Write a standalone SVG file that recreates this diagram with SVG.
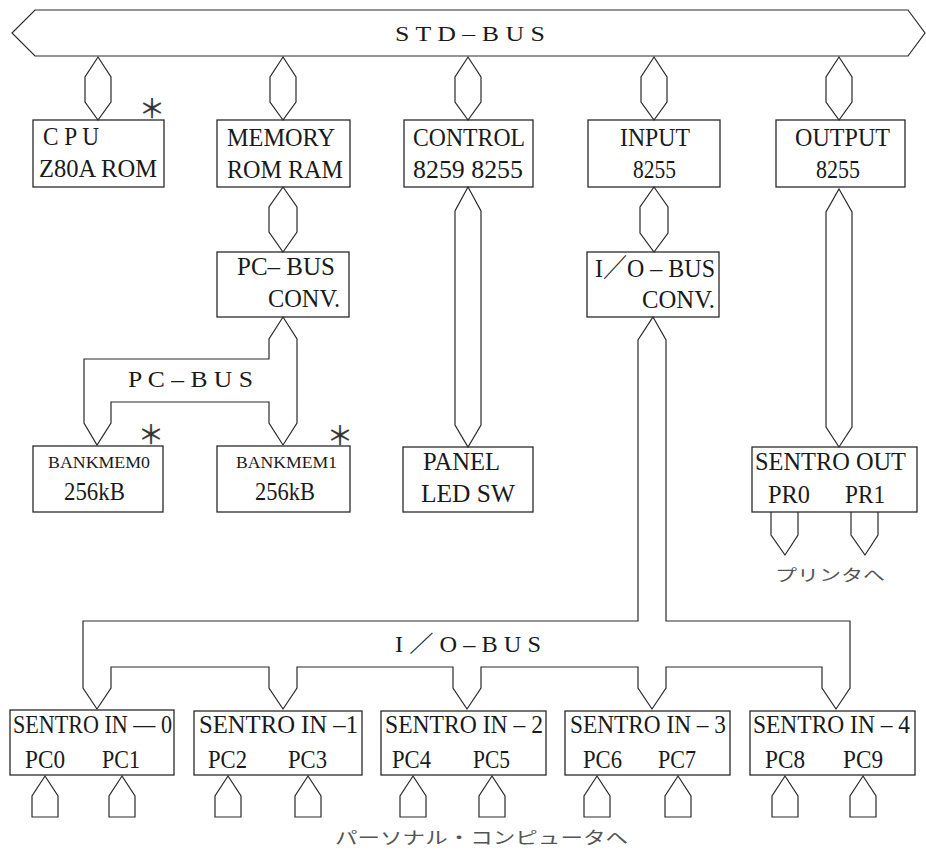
<svg xmlns="http://www.w3.org/2000/svg" width="926" height="857" viewBox="0 0 926 857">
<style>
.bx{fill:none;stroke:#2a2a2a;stroke-width:1.3}
.cn{fill:none;stroke:#2a2a2a;stroke-width:1.2;stroke-linejoin:miter}
.t{font-family:"Liberation Serif","Times New Roman","Noto Sans CJK JP",serif;font-size:26px;fill:#1a1a1a}
.m{font-size:23px}
.s{font-size:17px}
.b{font-size:20px}
.jp{font-family:"Noto Sans CJK JP",sans-serif;font-size:16px;fill:#555}
.ast{font-family:"Noto Sans CJK JP",sans-serif;font-size:26px;fill:#333;stroke:#333;stroke-width:0.3;text-anchor:middle;dominant-baseline:central}
</style>
<rect width="926" height="857" fill="#fff"/>
<g id="connectors">
<polygon class="cn" points="35,10 908,10 925,33 908,56 35,56 12,33"/>
<text class="t b" x="395" y="41" textLength="150" lengthAdjust="spacingAndGlyphs">S T D – B U S</text>
<polygon class="cn" points="98,57 111,77 111,102 98,120 85,102 85,77"/>
<polygon class="cn" points="283,57 296,77 296,102 283,120 270,102 270,77"/>
<polygon class="cn" points="468,57 481,77 481,102 468,120 455,102 455,77"/>
<polygon class="cn" points="654,57 667,77 667,102 654,120 641,102 641,77"/>
<polygon class="cn" points="839,57 852,77 852,102 839,120 826,102 826,77"/>
<polygon class="cn" points="283,187 297,207 297,232 283,252 269,232 269,207"/>
<polygon class="cn" points="654,187 668,207 668,233 654,252 640,233 640,207"/>
<polygon class="cn" points="468,187 481,211 481,425 468,447 455,425 455,211"/>
<polygon class="cn" points="839,189 852,212 852,427 839,447 826,427 826,212"/>
<polygon class="cn" points="283,317 297,339 297,423 283,445 269,423 269,402 111,402 111,423 97,445 84,423 84,359 269,359 269,339"/>
<text class="t m" x="128" y="387" textLength="125" lengthAdjust="spacingAndGlyphs">P C – B U S</text>
<polygon class="cn" points="653,317 666,340 666,621 850,621 850,688 836,709 822,688 822,667 666,667 666,688 652,709 638,688 638,667 481,667 481,688 467,709 453,688 453,667 297,667 297,688 283,709 269,688 269,667 111,667 111,688 97,709 83,688 83,621 638,621 638,340"/>
<text class="t m" x="395" y="652" textLength="146" lengthAdjust="spacingAndGlyphs">I ／ O – B U S</text>
<polyline class="cn" points="771,512 771,535 785,555 798,535 798,512"/>
<polyline class="cn" points="851,512 851,535 865,555 878,535 878,512"/>
<polygon class="cn" points="45,776 58,796 58,817 32,817 32,796"/>
<polygon class="cn" points="122,776 135,796 135,817 109,817 109,796"/>
<polygon class="cn" points="228,776 241,796 241,817 215,817 215,796"/>
<polygon class="cn" points="308,776 321,796 321,817 295,817 295,796"/>
<polygon class="cn" points="413,776 426,796 426,817 400,817 400,796"/>
<polygon class="cn" points="492,776 505,796 505,817 479,817 479,796"/>
<polygon class="cn" points="597,776 610,796 610,817 584,817 584,796"/>
<polygon class="cn" points="678,776 691,796 691,817 665,817 665,796"/>
<polygon class="cn" points="785,776 798,796 798,817 772,817 772,796"/>
<polygon class="cn" points="863,776 876,796 876,817 850,817 850,796"/>
<text class="jp" x="775" y="581" textLength="110" lengthAdjust="spacingAndGlyphs">プリンタへ</text>
<text class="jp" x="335" y="844" textLength="293" lengthAdjust="spacingAndGlyphs" style="font-size:17px">パーソナル・コンピュータへ</text>
</g>
<g id="cpu">
<rect class="bx" x="33" y="120" width="131" height="67"/>
<text class="t" x="43" y="145" textLength="56" lengthAdjust="spacingAndGlyphs">C P U</text>
<text class="t" x="39" y="177" textLength="118" lengthAdjust="spacingAndGlyphs">Z80A ROM</text>
<text class="ast" x="152" y="106">＊</text>
</g>
<g id="memory">
<rect class="bx" x="217" y="120" width="133" height="67"/>
<text class="t" x="227" y="146" textLength="108" lengthAdjust="spacingAndGlyphs">MEMORY</text>
<text class="t" x="227" y="178" textLength="116" lengthAdjust="spacingAndGlyphs">ROM RAM</text>
</g>
<g id="control">
<rect class="bx" x="404" y="120" width="129" height="67"/>
<text class="t" x="413" y="146" textLength="112" lengthAdjust="spacingAndGlyphs">CONTROL</text>
<text class="t" x="413" y="178" textLength="110" lengthAdjust="spacingAndGlyphs">8259 8255</text>
</g>
<g id="input">
<rect class="bx" x="588" y="120" width="132" height="67"/>
<text class="t" x="620" y="146" textLength="70" lengthAdjust="spacingAndGlyphs">INPUT</text>
<text class="t" x="633" y="178" textLength="43" lengthAdjust="spacingAndGlyphs">8255</text>
</g>
<g id="output">
<rect class="bx" x="776" y="120" width="129" height="67"/>
<text class="t" x="795" y="146" textLength="95" lengthAdjust="spacingAndGlyphs">OUTPUT</text>
<text class="t" x="816" y="178" textLength="44" lengthAdjust="spacingAndGlyphs">8255</text>
</g>
<g id="pcbus-conv">
<rect class="bx" x="217" y="252" width="132" height="65"/>
<text class="t" x="237" y="275" textLength="98" lengthAdjust="spacingAndGlyphs">PC– BUS</text>
<text class="t" x="268" y="307" textLength="72" lengthAdjust="spacingAndGlyphs">CONV.</text>
</g>
<g id="iobus-conv">
<rect class="bx" x="587" y="252" width="132" height="65"/>
<text class="t" x="595" y="277" textLength="120" lengthAdjust="spacingAndGlyphs">I／O – BUS</text>
<text class="t" x="642" y="308" textLength="73" lengthAdjust="spacingAndGlyphs">CONV.</text>
</g>
<g id="bankmem0">
<rect class="bx" x="33" y="446" width="130" height="66"/>
<text class="t s" x="48" y="468" textLength="102" lengthAdjust="spacingAndGlyphs">BANKMEM0</text>
<text class="t" x="64" y="500" textLength="61" lengthAdjust="spacingAndGlyphs">256kB</text>
<text class="ast" x="151" y="432">＊</text>
</g>
<g id="bankmem1">
<rect class="bx" x="217" y="446" width="133" height="66"/>
<text class="t s" x="236" y="468" textLength="101" lengthAdjust="spacingAndGlyphs">BANKMEM1</text>
<text class="t" x="255" y="500" textLength="60" lengthAdjust="spacingAndGlyphs">256kB</text>
<text class="ast" x="340" y="433">＊</text>
</g>
<g id="panel">
<rect class="bx" x="403" y="447" width="130" height="65"/>
<text class="t" x="423" y="470" textLength="77" lengthAdjust="spacingAndGlyphs">PANEL</text>
<text class="t" x="421" y="502" textLength="94" lengthAdjust="spacingAndGlyphs">LED SW</text>
</g>
<g id="sentro-out">
<rect class="bx" x="752" y="447" width="165" height="65"/>
<text class="t" x="755" y="470" textLength="151" lengthAdjust="spacingAndGlyphs">SENTRO OUT</text>
<text class="t" x="768" y="503" textLength="42" lengthAdjust="spacingAndGlyphs">PR0</text>
<text class="t" x="845" y="503" textLength="40" lengthAdjust="spacingAndGlyphs">PR1</text>
</g>
<g id="sentro-in-0">
<rect class="bx" x="10" y="710" width="164" height="65"/>
<text class="t" x="13" y="733" textLength="159" lengthAdjust="spacingAndGlyphs">SENTRO IN — 0</text>
<text class="t" x="25" y="768" textLength="40" lengthAdjust="spacingAndGlyphs">PC0</text>
<text class="t" x="102" y="768" textLength="38" lengthAdjust="spacingAndGlyphs">PC1</text>
</g>
<g id="sentro-in-1">
<rect class="bx" x="194" y="711" width="168" height="64"/>
<text class="t" x="199" y="733" textLength="159" lengthAdjust="spacingAndGlyphs">SENTRO IN –1</text>
<text class="t" x="208" y="768" textLength="39" lengthAdjust="spacingAndGlyphs">PC2</text>
<text class="t" x="288" y="768" textLength="39" lengthAdjust="spacingAndGlyphs">PC3</text>
</g>
<g id="sentro-in-2">
<rect class="bx" x="381" y="711" width="165" height="64"/>
<text class="t" x="385" y="733" textLength="158" lengthAdjust="spacingAndGlyphs">SENTRO IN – 2</text>
<text class="t" x="392" y="768" textLength="39" lengthAdjust="spacingAndGlyphs">PC4</text>
<text class="t" x="473" y="768" textLength="37" lengthAdjust="spacingAndGlyphs">PC5</text>
</g>
<g id="sentro-in-3">
<rect class="bx" x="565" y="711" width="165" height="64"/>
<text class="t" x="570" y="733" textLength="156" lengthAdjust="spacingAndGlyphs">SENTRO IN – 3</text>
<text class="t" x="583" y="768" textLength="39" lengthAdjust="spacingAndGlyphs">PC6</text>
<text class="t" x="658" y="768" textLength="38" lengthAdjust="spacingAndGlyphs">PC7</text>
</g>
<g id="sentro-in-4">
<rect class="bx" x="750" y="711" width="165" height="64"/>
<text class="t" x="753" y="733" textLength="157" lengthAdjust="spacingAndGlyphs">SENTRO IN – 4</text>
<text class="t" x="765" y="768" textLength="40" lengthAdjust="spacingAndGlyphs">PC8</text>
<text class="t" x="843" y="768" textLength="40" lengthAdjust="spacingAndGlyphs">PC9</text>
</g>
</svg>
